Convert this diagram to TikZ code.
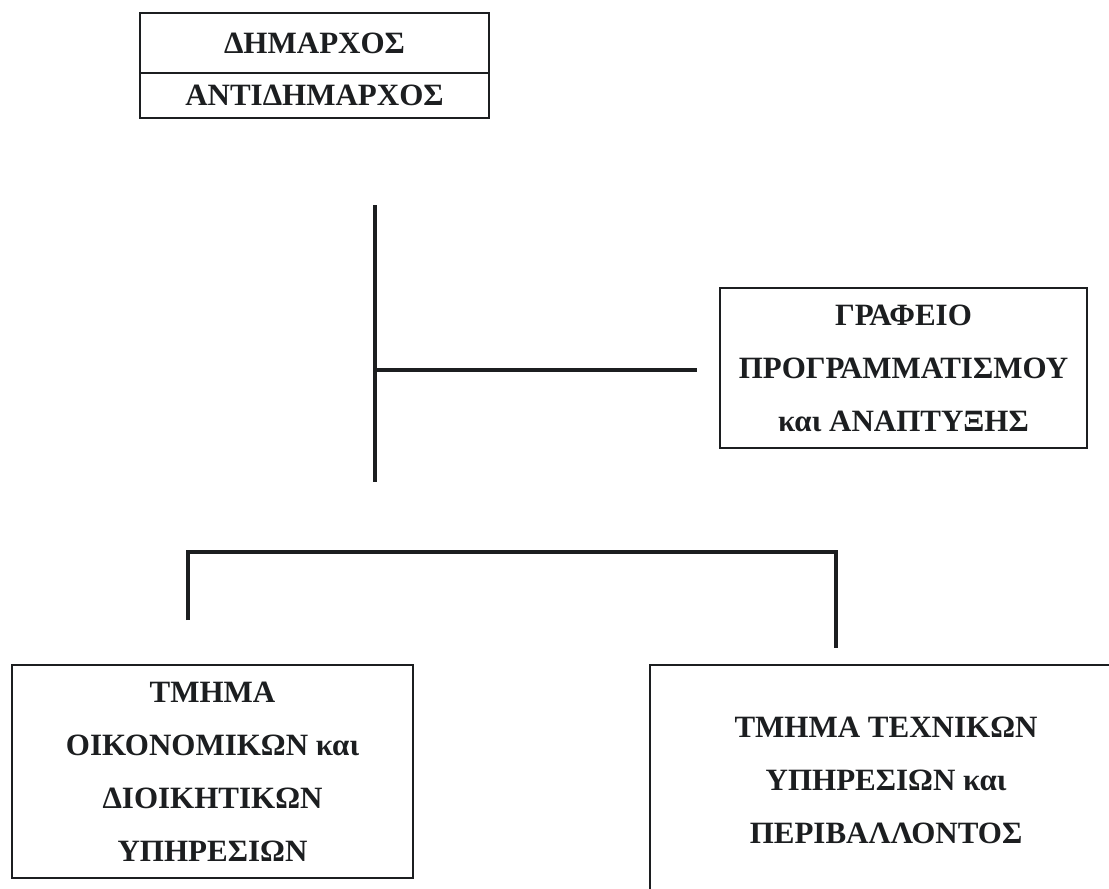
\documentclass[tikz,border=0pt]{standalone}
\usepackage{fontspec}
\setmainfont{Liberation Serif}
\usepackage{tikz}
\usetikzlibrary{positioning,calc}
\definecolor{chart_ink}{RGB}{28,30,32}
\tikzset{
  unitbox/.style={draw=chart_ink, line width=1pt, inner sep=0pt, align=center,
    text=chart_ink, font=\fontsize{15.5}{26.5}\selectfont\bfseries},
  linkline/.style={draw=chart_ink, line width=2.3pt}
}

\begin{document}
\begin{tikzpicture}[x=0.5pt,y=-0.5pt]
        \useasboundingbox[fill=white] (0,0) rectangle (1109,889);
        % Boxes
        \node[unitbox, minimum width=174.5pt, minimum height=30pt] (mayor) at (314.5,43) {ΔΗΜΑΡΧΟΣ};
        \node[unitbox, minimum width=174.5pt, minimum height=22.5pt] (deputy) at (314.5,95.5) {ΑΝΤΙΔΗΜΑΡΧΟΣ};
        \node[unitbox, minimum width=183.5pt, minimum height=80pt] (office) at (903.5,368)
              {ΓΡΑΦΕΙΟ\\ΠΡΟΓΡΑΜΜΑΤΙΣΜΟΥ\\και ΑΝΑΠΤΥΞΗΣ};
        \node[unitbox, minimum width=200.5pt, minimum height=106.5pt] (finance) at (212.5,771.5)
              {ΤΜΗΜΑ\\ΟΙΚΟΝΟΜΙΚΩΝ και\\ΔΙΟΙΚΗΤΙΚΩΝ\\ΥΠΗΡΕΣΙΩΝ};
        \node[unitbox, minimum width=236pt, minimum height=115pt] (technical) at (886,780)
              {ΤΜΗΜΑ ΤΕΧΝΙΚΩΝ\\ΥΠΗΡΕΣΙΩΝ και\\ΠΕΡΙΒΑΛΛΟΝΤΟΣ};
        % Line ends
        \coordinate (spineTop) at (375,205);
        \coordinate (spineBot) at (375,482);
        \coordinate (spineJoin) at (375,370);
        \coordinate (branchEnd) at (697,370);
        \coordinate (barLeft) at (188,552);
        \coordinate (barRight) at (836,552);
        \coordinate (dropLeft) at (188,620);
        \coordinate (dropRight) at (836,648);
        % Draw lines
        \draw[linkline] (spineTop) -- (spineBot);
        \draw[linkline] (spineJoin) -- (branchEnd);
        \draw[linkline] (dropLeft) -- (barLeft) -- (barRight) -- (dropRight);
        \end{tikzpicture}
\end{document}
